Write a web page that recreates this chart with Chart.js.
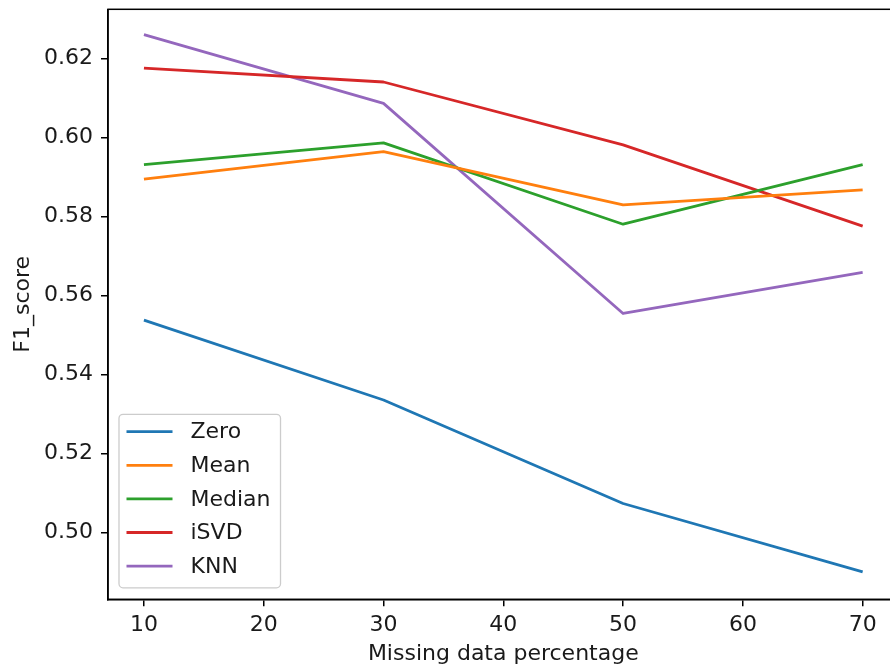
<!DOCTYPE html>
<html>
<head>
<meta charset="utf-8">
<script src="https://cdn.jsdelivr.net/npm/chart.js@4.4.1/dist/chart.umd.min.js"></script>
<style>
    html, body { margin: 0; padding: 0; background: #fff; overflow: hidden; }
    #wrap { position: absolute; left: 0; top: 0; width: 900px; height: 672px; }
</style>
</head>
<body>
<div id="wrap"><canvas id="f1Chart"></canvas></div>
<script>
// ==================== DATA ====================
const missingPct = [10, 30, 50, 70];
const xTicks = [10, 20, 30, 40, 50, 60, 70];
const yTicks = [0.50, 0.52, 0.54, 0.56, 0.58, 0.60, 0.62];

const zeroScores   = [0.5537, 0.5335, 0.5073, 0.4900];
const meanScores   = [0.5894, 0.5964, 0.5829, 0.5867];
const medianScores = [0.5931, 0.5986, 0.5780, 0.5931];
const isvdScores   = [0.6175, 0.6140, 0.5981, 0.5775];
const knnScores    = [0.6260, 0.6086, 0.5554, 0.5658];

const seriesNames  = ['Zero', 'Mean', 'Median', 'iSVD', 'KNN'];
const seriesColors = ['#1f77b4', '#ff7f0e', '#2ca02c', '#d62728', '#9467bd'];

const FONT = "'DejaVu Sans', sans-serif";
const TEXT_COLOR = '#1a1a1a';

document.addEventListener('DOMContentLoaded', () => {
    initChart();
});

function toPoints(values) {
    return values.map((v, i) => ({ x: missingPct[i], y: v }));
}

// matplotlib style frame (all four spines)
const framePlugin = {
    id: 'frame',
    afterDraw(chart) {
        const { ctx, chartArea: a } = chart;
        ctx.save();
        ctx.strokeStyle = '#000';
        ctx.lineWidth = 1.5;
        ctx.strokeRect(a.left, a.top, a.right - a.left, a.bottom - a.top);
        ctx.restore();
    }
};

// legend box in the lower left corner of the axes
const boxLegend = {
    id: 'boxLegend',
    afterDraw(chart) {
        const { ctx, chartArea: a } = chart;
        const sets = chart.data.datasets;
        const left = a.left + 11;
        const bottom = a.bottom - 11.5;
        const rowH = 33.6;
        const padTop = 17.4, padBottom = 21.7;
        const height = padTop + rowH * (sets.length - 1) + padBottom;
        const top = bottom - height;

        ctx.save();
        ctx.font = '22px ' + FONT;
        const textW = Math.max(...sets.map(d => ctx.measureText(d.label).width));
        const width = 7.5 + 46 + 18 + textW + 10;

        ctx.beginPath();
        ctx.roundRect(left, top, width, height, 4);
        ctx.fillStyle = 'rgba(255,255,255,0.8)';
        ctx.fill();
        ctx.strokeStyle = '#cccccc';
        ctx.lineWidth = 1.3;
        ctx.stroke();

        sets.forEach((d, i) => {
            const y = top + padTop + i * rowH;
            ctx.beginPath();
            ctx.moveTo(left + 7.5, y);
            ctx.lineTo(left + 7.5 + 46, y);
            ctx.strokeStyle = d.borderColor;
            ctx.lineWidth = 2.8;
            ctx.stroke();
            ctx.fillStyle = TEXT_COLOR;
            ctx.textBaseline = 'middle';
            ctx.textAlign = 'left';
            ctx.fillText(d.label, left + 7.5 + 46 + 18, y + 1);
        });
        ctx.restore();
    }
};

function initChart() {
    const ctx = document.getElementById('f1Chart').getContext('2d');
    const allSeries = [zeroScores, meanScores, medianScores, isvdScores, knnScores];

    new Chart(ctx, {
        type: 'line',
        data: {
            datasets: allSeries.map((vals, i) => ({
                label: seriesNames[i],
                data: toPoints(vals),
                borderColor: seriesColors[i],
                backgroundColor: seriesColors[i],
                borderWidth: 2.8,
                borderJoinStyle: 'round',
                borderCapStyle: 'butt',
                pointRadius: 0,
                tension: 0,
                fill: false
            }))
        },
        options: {
            responsive: true,
            maintainAspectRatio: false,
            animation: false,
            layout: { padding: { top: 9.3, right: 1.4, left: 0, bottom: 0 } },
            plugins: {
                legend: { display: false },
                tooltip: { enabled: false }
            },
            scales: {
                x: {
                    type: 'linear',
                    min: 7,
                    max: 73,
                    afterBuildTicks: scale => { scale.ticks = xTicks.map(v => ({ value: v })); },
                    afterFit: scale => {
                        scale.height = 72.7;
                        scale.paddingLeft = 0;
                        scale.paddingRight = 0;
                    },
                    grid: { drawOnChartArea: false, color: '#000', lineWidth: 1.5, tickLength: 7 },
                    border: { color: '#000', width: 1.5 },
                    ticks: {
                        color: TEXT_COLOR,
                        padding: 6,
                        maxRotation: 0,
                        font: { family: FONT, size: 22 },
                        callback: v => String(v)
                    },
                    title: {
                        display: true,
                        text: 'Missing data percentage',
                        color: TEXT_COLOR,
                        font: { family: FONT, size: 22 },
                        padding: { top: 0, bottom: 4.4 }
                    }
                },
                y: {
                    type: 'linear',
                    min: 0.48304,
                    max: 0.63241,
                    afterBuildTicks: scale => { scale.ticks = yTicks.map(v => ({ value: v })); },
                    afterFit: scale => {
                        scale.width = 108;
                        scale.paddingTop = 0;
                        scale.paddingBottom = 0;
                    },
                    grid: { drawOnChartArea: false, color: '#000', lineWidth: 1.5, tickLength: 7 },
                    border: { color: '#000', width: 1.5 },
                    ticks: {
                        color: TEXT_COLOR,
                        padding: 8,
                        font: { family: FONT, size: 22 },
                        callback: v => v.toFixed(2)
                    },
                    title: {
                        display: true,
                        text: 'F1_score',
                        color: TEXT_COLOR,
                        font: { family: FONT, size: 22 },
                        padding: { top: 10, bottom: 0 }
                    }
                }
            }
        },
        plugins: [framePlugin, boxLegend]
    });
}
</script>
</body>
</html>
